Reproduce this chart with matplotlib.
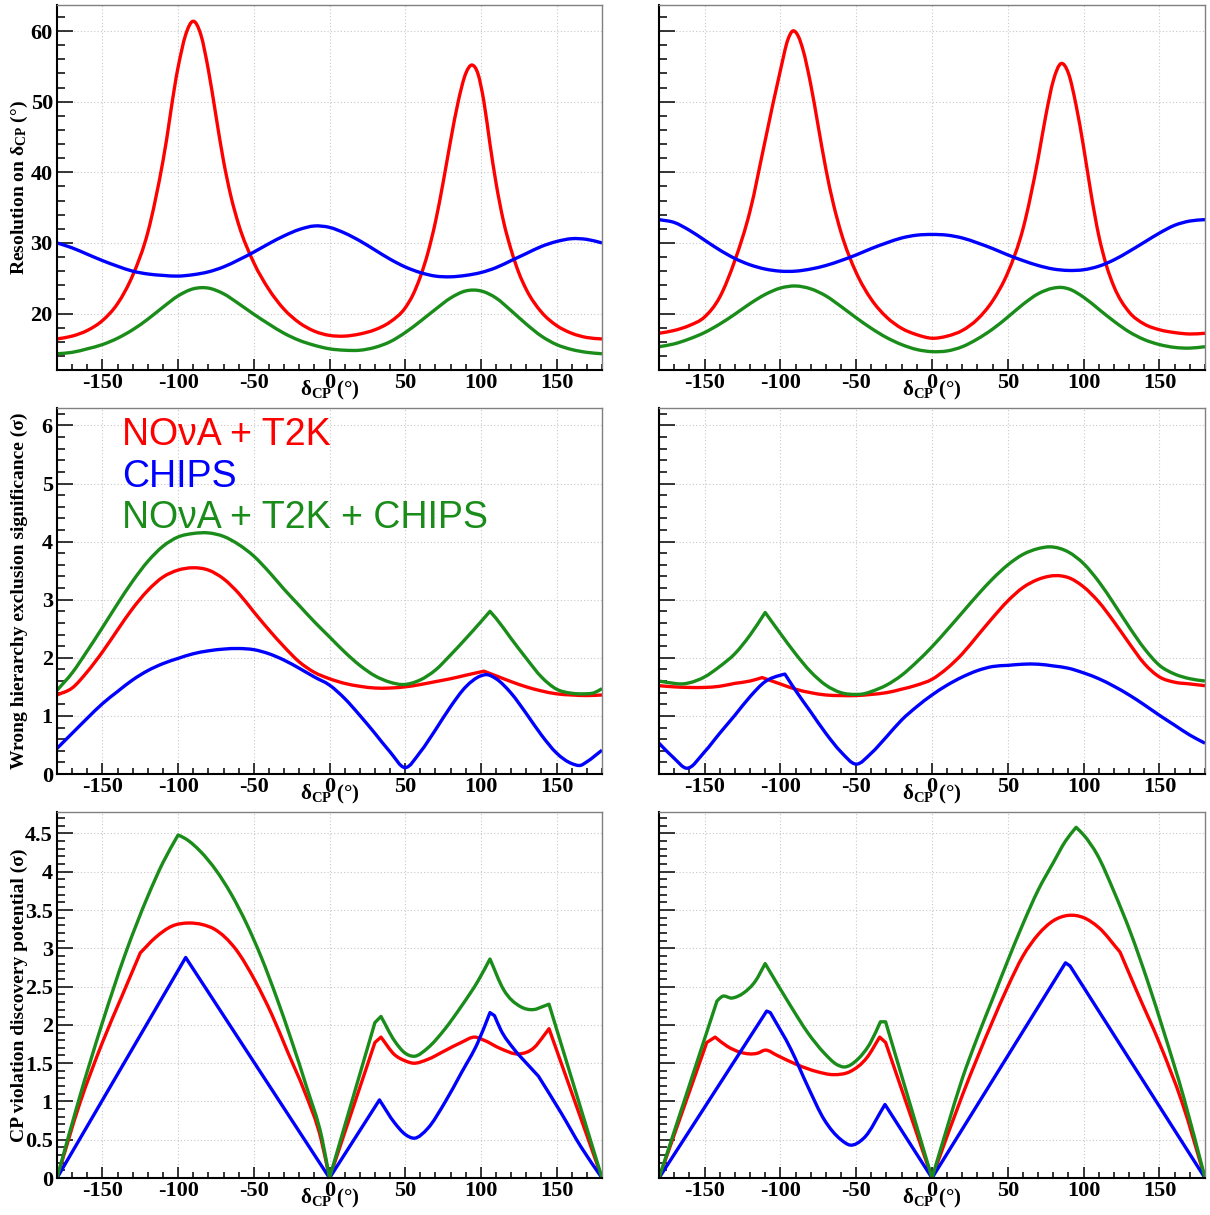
import matplotlib
matplotlib.use('Agg')
import matplotlib.pyplot as plt
from matplotlib.ticker import MultipleLocator, FuncFormatter
from matplotlib.path import Path
from matplotlib.patches import PathPatch
from matplotlib.font_manager import FontProperties

plt.rcParams['mathtext.fontset'] = 'custom'
plt.rcParams['mathtext.rm'] = 'Liberation Serif:bold'
plt.rcParams['mathtext.it'] = 'Liberation Serif:bold'
plt.rcParams['mathtext.bf'] = 'Liberation Serif:bold'
plt.rcParams['axes.unicode_minus'] = False

RED = '#ff0000'
BLUE = '#0000ff'
GREEN = '#1a8c1a'

# ---------------- Row 1: resolution on delta_CP (degrees) ----------------
res_L_red_x = [-180,-170,-160,-150,-140,-130,-120,-110,-100,-95,-90,-85,-80,-75,-70,-65,-60,-50,-40,-30,-20,-10,0,10,20,30,40,50,55,60,65,70,75,80,85,90,94,98,102,106,110,115,120,125,130,140,150,160,170,180]
res_L_red_y = [16.4,16.8,17.6,19.0,21.4,25.4,31.5,41.6,54.9,59.5,61.4,59.5,54.5,48.0,41.6,36.5,32.6,27.2,23.4,20.6,18.7,17.5,16.9,16.8,17.1,17.7,18.8,20.8,22.6,25.2,28.6,33.0,38.5,44.5,50.0,54.0,55.2,54.0,50.0,44.0,38.5,33.0,29.0,25.8,23.4,20.2,18.3,17.2,16.6,16.4]
res_L_red_k = []
res_L_blue_x = list(range(-180, 181, 10))
res_L_blue_y = [30.0,29.3,28.4,27.5,26.7,26.0,25.6,25.4,25.3,25.5,25.9,26.6,27.6,28.7,29.9,31.0,31.9,32.4,32.2,31.4,30.3,29.0,27.7,26.6,25.8,25.3,25.2,25.4,25.8,26.5,27.5,28.5,29.5,30.2,30.6,30.5,30.0]
res_L_blue_k = []
res_L_green_x = list(range(-180, 181, 10))
res_L_green_y = [14.3,14.5,15.0,15.6,16.5,17.7,19.2,20.9,22.5,23.5,23.6,22.8,21.4,19.9,18.5,17.2,16.2,15.5,15.0,14.8,14.8,15.2,16.0,17.3,18.9,20.6,22.2,23.2,23.2,22.2,20.4,18.5,16.8,15.6,14.9,14.5,14.3]
res_L_green_k = []

res_R_red_x = [-180,-170,-160,-150,-140,-130,-120,-110,-100,-95,-92,-88,-85,-80,-75,-70,-65,-60,-50,-40,-30,-20,-10,0,10,20,30,40,50,60,70,75,80,85,90,95,100,105,110,115,120,130,140,150,160,170,180]
res_R_red_y = [17.2,17.6,18.3,19.5,22.3,27.5,34.5,44.5,54.4,58.8,60.0,59.2,57.3,52.5,46.5,40.5,35.5,31.5,25.8,22.0,19.5,17.9,17.0,16.5,16.8,17.6,19.2,21.8,25.8,32.0,42.0,48.0,53.0,55.4,54.0,49.5,43.5,36.8,31.0,26.8,23.8,20.2,18.5,17.7,17.3,17.1,17.2]
res_R_red_k = []
res_R_blue_x = list(range(-180, 181, 10))
res_R_blue_y = [33.3,32.9,31.8,30.4,29.0,27.8,26.9,26.3,26.0,26.0,26.3,26.8,27.5,28.3,29.2,30.0,30.7,31.1,31.2,31.1,30.7,30.0,29.2,28.3,27.5,26.8,26.3,26.1,26.2,26.7,27.6,28.8,30.1,31.4,32.5,33.1,33.3]
res_R_blue_k = []
res_R_green_x = [-180,-170,-160,-150,-140,-130,-120,-110,-100,-90,-80,-70,-60,-50,-40,-30,-20,-10,0,10,20,30,40,50,60,70,80,85,90,100,110,120,130,140,150,160,170,180]
res_R_green_y = [15.3,15.7,16.4,17.3,18.5,19.9,21.4,22.7,23.6,23.9,23.5,22.5,21.0,19.4,17.9,16.6,15.6,14.9,14.6,14.7,15.3,16.4,17.8,19.5,21.3,22.8,23.6,23.7,23.5,22.3,20.6,18.9,17.4,16.3,15.6,15.2,15.1,15.3]
res_R_green_k = []

# ---------------- Row 2: wrong hierarchy exclusion significance ----------------
whe_L_red_x = [-180,-170,-160,-150,-140,-130,-120,-110,-100,-90,-80,-70,-60,-50,-40,-30,-20,-10,0,10,20,30,40,50,60,70,80,90,102,110,120,130,140,150,160,170,180]
whe_L_red_y = [1.36,1.48,1.76,2.10,2.48,2.85,3.16,3.39,3.51,3.55,3.51,3.36,3.11,2.79,2.48,2.19,1.93,1.75,1.64,1.56,1.51,1.48,1.48,1.50,1.54,1.59,1.64,1.70,1.77,1.69,1.59,1.50,1.43,1.38,1.36,1.35,1.36]
whe_L_red_k = [102]
whe_L_green_x = [-180,-170,-160,-150,-140,-130,-120,-110,-100,-90,-80,-70,-60,-50,-40,-30,-20,-10,0,10,20,30,40,48,60,70,80,90,100,106,110,120,130,140,150,160,168,175,180]
whe_L_green_y = [1.44,1.74,2.12,2.52,2.93,3.32,3.66,3.92,4.08,4.14,4.15,4.09,3.95,3.75,3.48,3.18,2.90,2.62,2.36,2.10,1.87,1.69,1.58,1.54,1.62,1.79,2.05,2.33,2.62,2.80,2.68,2.33,1.99,1.67,1.46,1.39,1.38,1.40,1.47]
whe_L_green_k = [106]
whe_L_blue_x = [-180,-170,-160,-150,-140,-130,-120,-110,-100,-90,-80,-70,-60,-50,-40,-30,-20,-10,0,10,20,30,40,50,60,70,80,90,100,104,110,120,130,140,150,160,166,170,180]
whe_L_blue_y = [0.44,0.70,0.96,1.21,1.42,1.62,1.78,1.90,1.99,2.07,2.12,2.15,2.16,2.14,2.07,1.96,1.82,1.67,1.53,1.30,1.01,0.70,0.38,0.11,0.38,0.76,1.16,1.50,1.69,1.71,1.64,1.39,1.04,0.67,0.36,0.18,0.15,0.21,0.41]
whe_L_blue_k = []

whe_R_red_x = [-180,-170,-160,-150,-140,-130,-120,-112,-100,-90,-80,-70,-60,-50,-40,-30,-20,-10,0,10,20,30,40,50,60,70,85,90,100,110,120,130,140,150,160,170,180]
whe_R_red_y = [1.52,1.50,1.49,1.49,1.51,1.56,1.60,1.66,1.55,1.46,1.40,1.36,1.35,1.35,1.37,1.40,1.46,1.53,1.63,1.82,2.07,2.38,2.69,2.98,3.21,3.35,3.41,3.38,3.22,2.96,2.62,2.25,1.90,1.67,1.58,1.55,1.52]
whe_R_red_k = [-112]
whe_R_green_x = [-180,-170,-165,-160,-150,-140,-130,-120,-110,-100,-90,-80,-70,-60,-50,-45,-40,-30,-20,-10,0,10,20,30,40,50,60,70,78,90,100,110,120,130,140,150,160,170,180]
whe_R_green_y = [1.60,1.56,1.55,1.57,1.67,1.85,2.07,2.39,2.78,2.42,2.07,1.76,1.53,1.40,1.37,1.38,1.42,1.53,1.70,1.93,2.19,2.48,2.78,3.08,3.36,3.60,3.78,3.88,3.91,3.82,3.62,3.31,2.93,2.53,2.16,1.87,1.72,1.64,1.60]
whe_R_green_k = [-110]
whe_R_blue_x = [-180,-170,-162,-150,-140,-130,-120,-110,-100,-97,-90,-80,-70,-60,-50,-40,-30,-20,-10,0,10,20,30,40,50,60,70,80,90,100,110,120,130,140,150,160,170,180]
whe_R_blue_y = [0.53,0.27,0.10,0.38,0.70,1.01,1.33,1.59,1.70,1.72,1.44,1.07,0.70,0.38,0.17,0.36,0.64,0.93,1.16,1.36,1.53,1.67,1.78,1.85,1.87,1.89,1.89,1.86,1.82,1.74,1.64,1.51,1.36,1.19,1.01,0.84,0.67,0.53]
whe_R_blue_k = [-97]

# ---------------- Row 3: CP violation discovery potential ----------------
cpv_L_blue_x = [-180,-95,0,33,43,50,56,65,76,87,98,106,109,113,122,131,138,153,166,180]
cpv_L_blue_y = [0,2.88,0,1.02,0.72,0.57,0.52,0.65,0.98,1.37,1.77,2.16,2.12,1.94,1.68,1.48,1.33,0.85,0.41,0]
cpv_L_blue_k = [-95, 0, 33, 106, 109, 138]
cpv_L_red_x = [-180,-165,-150,-137,-125,-115,-104,-93,-84,-76,-62,-49,-38,-27.5,-16.5,-5.5,0,30,34,43,50,55,65,76,87,96,102,113,125,135,142,145,180]
cpv_L_red_y = [0,0.97,1.77,2.38,2.94,3.14,3.29,3.33,3.31,3.25,2.99,2.57,2.13,1.64,1.13,0.50,0,1.77,1.84,1.61,1.53,1.50,1.55,1.66,1.77,1.84,1.80,1.69,1.62,1.70,1.87,1.95,0]
cpv_L_red_k = [-125, 0, 30, 34, 145]
cpv_L_green_x = [-180,-165,-150,-135,-120,-110,-100,-95,-85,-75,-65,-55,-45,-35,-25,-15,-5,0,30,34,43,50,56,65,76,87,98,106,115,126,135,141,145,180]
cpv_L_green_y = [0,1.06,2.03,2.92,3.68,4.12,4.48,4.43,4.26,4.02,3.71,3.33,2.88,2.36,1.79,1.18,0.52,0,2.03,2.11,1.79,1.63,1.59,1.70,1.94,2.24,2.57,2.86,2.46,2.24,2.20,2.24,2.27,0]
cpv_L_green_k = [-100, 0, 30, 34, 106, 145]

cpv_R_blue_x = [-180,-109,-106.6,-93,-82,-71,-60,-54,-45,-31,0,88,91,180]
cpv_R_blue_y = [0,2.18,2.16,1.68,1.20,0.76,0.50,0.43,0.52,0.96,0,2.81,2.77,0]
cpv_R_blue_k = [-109, -106.6, -31, 0, 88, 91]
cpv_R_red_x = [-180,-148.5,-143,-135,-126,-115,-110,-102,-89,-76,-65,-54,-43,-34.5,-30.6,0,20,40,50,60,70,80,90,100,110,124,135,150,165,180]
cpv_R_red_y = [0,1.77,1.84,1.72,1.64,1.63,1.67,1.60,1.48,1.39,1.35,1.39,1.57,1.84,1.77,0,1.08,2.05,2.50,2.90,3.18,3.36,3.43,3.40,3.27,2.95,2.44,1.76,0.98,0]
cpv_R_red_k = [-148.5, -143, -34.5, -30.6, 0, 124]
cpv_R_green_x = [-180,-141.8,-138.5,-132,-124,-116.5,-110,-93,-82,-71,-62.6,-58,-49,-40.5,-34,-30.6,0,10,20,30,40,50,60,70,80,88,95,100,109,120,131,142,153,166,180]
cpv_R_green_y = [0,2.31,2.37,2.35,2.42,2.57,2.80,2.24,1.90,1.63,1.48,1.45,1.55,1.77,2.04,2.04,0,0.66,1.30,1.84,2.34,2.84,3.32,3.76,4.12,4.40,4.58,4.48,4.22,3.74,3.20,2.58,1.90,1.05,0]
cpv_R_green_k = [-141.8, -110, -34, -30.6, 0, 95]

legend_labels = ['NO\u03bdA + T2K', 'CHIPS', 'NO\u03bdA + T2K + CHIPS']
x_title = '\u03b4$_{CP}$ (\u00b0)'
y_titles = ['Resolution on \u03b4$_{CP}$ (\u00b0)',
            'Wrong hierarchy exclusion significance (\u03c3)',
            'CP violation discovery potential (\u03c3)']


def smooth_path(xs, ys, kinks):
    """Hermite/Bezier path through the data points; sharp corners at kinks."""
    n = len(xs)
    cut = [0] + [i for i in range(1, n - 1) if xs[i] in kinks] + [n - 1]
    verts = [(xs[0], ys[0])]
    codes = [Path.MOVETO]
    for a, b in zip(cut[:-1], cut[1:]):
        px, py = xs[a:b + 1], ys[a:b + 1]
        m = len(px)
        d = [(py[j + 1] - py[j]) / (px[j + 1] - px[j]) for j in range(m - 1)]
        t = [0.0] * m
        t[0], t[-1] = d[0], d[-1]
        for j in range(1, m - 1):
            h0, h1 = px[j] - px[j - 1], px[j + 1] - px[j]
            t[j] = (d[j - 1] * h1 + d[j] * h0) / (h0 + h1)
        for j in range(m - 1):
            h = px[j + 1] - px[j]
            verts += [(px[j] + h / 3, py[j] + t[j] * h / 3),
                      (px[j + 1] - h / 3, py[j + 1] - t[j + 1] * h / 3),
                      (px[j + 1], py[j + 1])]
            codes += [Path.CURVE4] * 3
    return Path(verts, codes)


W, H = 1210, 1215
fig = plt.figure(figsize=(W / 100, H / 100), dpi=100)

cols = [(57, 602), (659, 1205)]
rows = [(5, 370), (408, 774), (812, 1178)]
ylims = [(12.0, 63.7), (0, 6.3), (0, 4.78)]
ymaj = [10, 1, 0.5]
ymin = [2, 0.2, 0.1]

panels = [
    [[(res_L_red_x, res_L_red_y, res_L_red_k, RED), (res_L_blue_x, res_L_blue_y, res_L_blue_k, BLUE), (res_L_green_x, res_L_green_y, res_L_green_k, GREEN)],
     [(res_R_red_x, res_R_red_y, res_R_red_k, RED), (res_R_blue_x, res_R_blue_y, res_R_blue_k, BLUE), (res_R_green_x, res_R_green_y, res_R_green_k, GREEN)]],
    [[(whe_L_red_x, whe_L_red_y, whe_L_red_k, RED), (whe_L_blue_x, whe_L_blue_y, whe_L_blue_k, BLUE), (whe_L_green_x, whe_L_green_y, whe_L_green_k, GREEN)],
     [(whe_R_red_x, whe_R_red_y, whe_R_red_k, RED), (whe_R_blue_x, whe_R_blue_y, whe_R_blue_k, BLUE), (whe_R_green_x, whe_R_green_y, whe_R_green_k, GREEN)]],
    [[(cpv_L_red_x, cpv_L_red_y, cpv_L_red_k, RED), (cpv_L_blue_x, cpv_L_blue_y, cpv_L_blue_k, BLUE), (cpv_L_green_x, cpv_L_green_y, cpv_L_green_k, GREEN)],
     [(cpv_R_red_x, cpv_R_red_y, cpv_R_red_k, RED), (cpv_R_blue_x, cpv_R_blue_y, cpv_R_blue_k, BLUE), (cpv_R_green_x, cpv_R_green_y, cpv_R_green_k, GREEN)]],
]

tickfont = FontProperties(family='Liberation Serif', weight='bold', size=16)
fmt = FuncFormatter(lambda v, p: '%g' % round(v, 6))

for r, (y0, y1) in enumerate(rows):
    for c, (x0, x1) in enumerate(cols):
        ax = fig.add_axes([x0 / W, 1 - y1 / H, (x1 - x0) / W, (y1 - y0) / H])
        ax.set_xlim(-180, 180)
        ax.set_ylim(*ylims[r])
        ax.xaxis.set_major_locator(MultipleLocator(50))
        ax.xaxis.set_minor_locator(MultipleLocator(10))
        ax.yaxis.set_major_locator(MultipleLocator(ymaj[r]))
        ax.yaxis.set_minor_locator(MultipleLocator(ymin[r]))
        ax.xaxis.set_major_formatter(fmt)
        ax.yaxis.set_major_formatter(fmt)
        ax.grid(True, which='major', color='#c8c8c8', linestyle=(0, (1, 2)), linewidth=0.8)
        ax.set_axisbelow(True)
        ax.tick_params(which='both', direction='in', top=False, right=False, colors='black')
        ax.tick_params(axis='y', which='major', length=11.3, width=1.1, pad=3)
        ax.tick_params(axis='y', which='minor', length=5.6, width=1.1)
        ax.tick_params(axis='x', which='major', length=7.9, width=1.1, pad=2)
        ax.tick_params(axis='x', which='minor', length=4.0, width=1.1)
        for lab in ax.get_xticklabels() + ax.get_yticklabels():
            lab.set_fontproperties(tickfont)
        if c == 1:
            ax.tick_params(axis='y', labelleft=False)
        for side in ['left', 'bottom']:
            ax.spines[side].set_color('black')
            ax.spines[side].set_linewidth(1.5)
        for side in ['top', 'right']:
            ax.spines[side].set_color('#808080')
            ax.spines[side].set_linewidth(1.0)

        for sx, sy, sk, col in panels[r][c]:
            ax.add_patch(PathPatch(smooth_path(sx, sy, sk), fill=False, edgecolor=col,
                                   lw=2.4, joinstyle='round', capstyle='butt'))

        ax.text(0.5, -(395 - 370) / (y1 - y0), x_title, transform=ax.transAxes,
                ha='center', va='baseline', fontsize=15, family='Liberation Serif', weight='bold')

        if c == 0:
            ax.text((19 - x0) / (x1 - x0), 0.5, y_titles[r], transform=ax.transAxes,
                    rotation=90, ha='center', va='center', fontsize=14,
                    family='Liberation Serif', weight='bold')

        if r == 1 and c == 0:
            for lbl, col, by_ in zip(legend_labels, [RED, BLUE, GREEN], [445, 486.7, 528.3]):
                ax.text((121.7 - x0) / (x1 - x0), (y1 - by_) / (y1 - y0), lbl,
                        transform=ax.transAxes, ha='left', va='baseline',
                        fontsize=27, family='Liberation Sans', color=col)

fig.savefig('out.png', dpi=100, facecolor='white')
